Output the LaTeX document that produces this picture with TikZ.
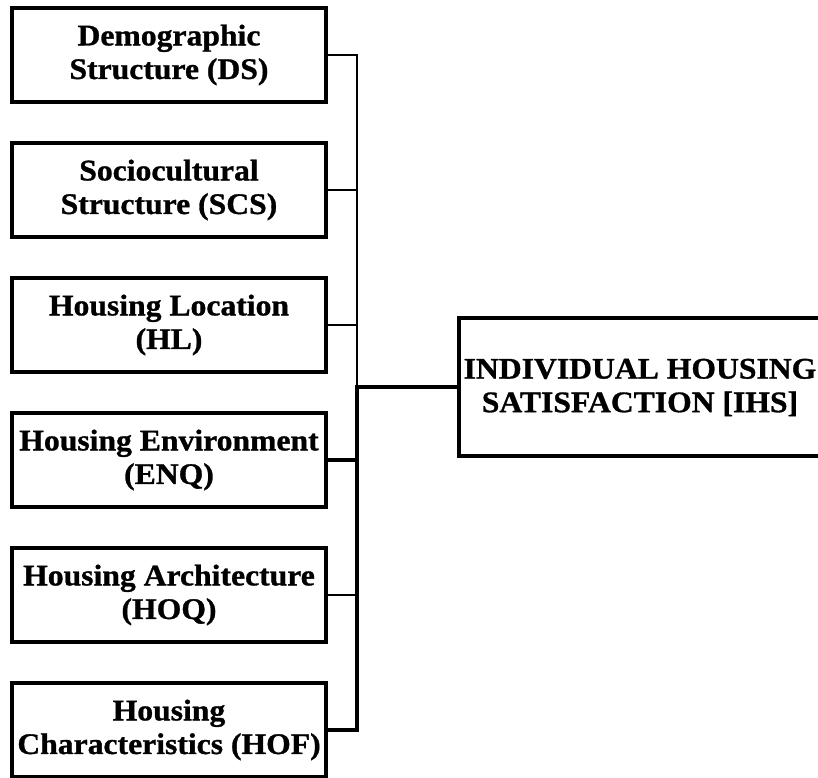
\documentclass[tikz,border=0pt]{standalone}
\usepackage{fontspec}
\newfontfamily\boxfont[FakeStretch=1.06,BoldFeatures={FakeBold=1}]{Liberation Serif}
\usepackage{tikz}

\begin{document}
\begin{tikzpicture}[x=0.75pt,y=0.75pt,
  factor/.style={draw, line width=3pt, minimum width=235.5pt, minimum height=71pt, inner sep=0pt, align=center, font=\boxfont\bfseries\fontsize{22.4}{25.2}\selectfont},
  thinlink/.style={line width=1.2pt},
  thicklink/.style={line width=3pt}]
 \useasboundingbox (0,0) rectangle (818,778);
 \node[factor] (ds) at (169,723) {Demographic\\Structure (DS)};
 \node[factor] (scs) at (169,588) {Sociocultural\\Structure (SCS)};
 \node[factor] (hl) at (169,453) {Housing Location\\(HL)};
 \node[factor] (enq) at (169,318) {Housing Environment\\(ENQ)};
 \node[factor] (hoq) at (169,183) {Housing Architecture\\(HOQ)};
 \node[factor] (hof) at (169,48) {Housing\\Characteristics (HOF)};
 \node[factor, minimum width=272pt, minimum height=103.5pt] (ihs) at (640,390.5) {INDIVIDUAL HOUSING\\SATISFACTION [IHS]};
 \coordinate (jn) at (357,390.5);
 \draw[thinlink] (ds.east) -| (jn);
 \draw[thinlink] (scs.east) -- (scs.east -| jn);
 \draw[thinlink] (hl.east) -- (hl.east -| jn);
 \draw[thicklink] (enq.east) -- (enq.east -| jn);
 \draw[thinlink] (hoq.east) -- (hoq.east -| jn);
 \draw[thicklink] (hof.east) -| (jn) -- (ihs.west);
\end{tikzpicture}
\end{document}
